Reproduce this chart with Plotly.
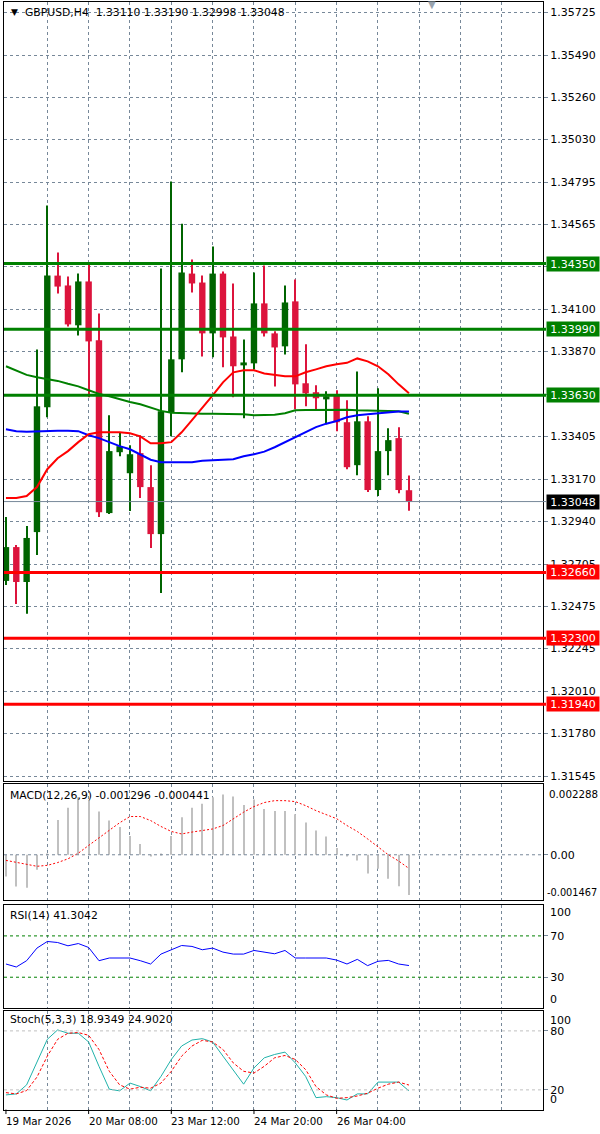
import plotly.graph_objects as go

W, H = 600, 1134
FONT = "DejaVu Sans"
FS = 11          # axis ticks and level boxes
FS_T = 10.8      # panel titles
FS_D = 10.3      # date labels

# ---- GBPUSD H4 candles, oldest -> newest ----
opens = [1.32614, 1.32799, 1.32608, 1.32881, 1.33564, 1.34284, 1.34230, 1.34012, 1.34252, 1.33930,
         1.32985, 1.33318, 1.33203, 1.33313, 1.33127, 1.32870, 1.33536, 1.33826, 1.34295, 1.34246,
         1.33968, 1.34295, 1.33951, 1.33793, 1.33804, 1.34132, 1.33968, 1.33897, 1.34143, 1.33695,
         1.33646, 1.33607, 1.33629, 1.33482, 1.33247, 1.33487, 1.33111, 1.33324, 1.33395, 1.33110]
highs = [1.32963, 1.32810, 1.32914, 1.33880, 1.34667, 1.34410, 1.34279, 1.34295, 1.34355, 1.34077,
         1.33520, 1.33427, 1.33356, 1.33411, 1.33247, 1.34323, 1.34798, 1.34568, 1.34372, 1.34284,
         1.34443, 1.34306, 1.34241, 1.33935, 1.34301, 1.34339, 1.33979, 1.34230, 1.34263, 1.33908,
         1.33684, 1.33651, 1.33657, 1.33602, 1.33760, 1.33515, 1.33668, 1.33449, 1.33455, 1.33190]
lows = [1.32592, 1.32488, 1.32434, 1.32756, 1.33509, 1.34186, 1.34006, 1.33957, 1.33618, 1.32963,
        1.32980, 1.33296, 1.32996, 1.33067, 1.32794, 1.32548, 1.33405, 1.33755, 1.34192, 1.33842,
        1.33837, 1.33782, 1.33618, 1.33504, 1.33771, 1.33951, 1.33678, 1.33853, 1.33553, 1.33569,
        1.33553, 1.33471, 1.33433, 1.33225, 1.33192, 1.33100, 1.33078, 1.33192, 1.33094, 1.32998]
closes = [1.32799, 1.32608, 1.32849, 1.33569, 1.34284, 1.34224, 1.34017, 1.34252, 1.33924, 1.32990,
          1.33324, 1.33351, 1.33307, 1.33127, 1.32870, 1.33542, 1.33826, 1.34301, 1.34241, 1.33968,
          1.34295, 1.33946, 1.33788, 1.33809, 1.34132, 1.33968, 1.33891, 1.34137, 1.33689, 1.33640,
          1.33613, 1.33624, 1.33482, 1.33236, 1.33487, 1.33111, 1.33324, 1.33384, 1.33111, 1.33048]

# moving averages
ma_red = [1.33067, 1.33067, 1.33078, 1.33127, 1.33225, 1.33285, 1.33324, 1.33373, 1.33416, 1.33427,
          1.33427, 1.33427, 1.33422, 1.33405, 1.33367, 1.33367, 1.33373, 1.33427, 1.33493, 1.33558,
          1.33629, 1.33700, 1.33755, 1.33766, 1.33766, 1.33749, 1.33739, 1.33733, 1.33733, 1.33755,
          1.33771, 1.33788, 1.33799, 1.33807, 1.33831, 1.33815, 1.33788, 1.33744, 1.33689, 1.33640]
ma_blue = [1.33444, 1.33433, 1.33430, 1.33433, 1.33434, 1.33435, 1.33435, 1.33433, 1.33411, 1.33395,
           1.33373, 1.33351, 1.33334, 1.33307, 1.33277, 1.33263, 1.33263, 1.33263, 1.33263, 1.33271,
           1.33276, 1.33277, 1.33280, 1.33296, 1.33307, 1.33321, 1.33345, 1.33373, 1.33400, 1.33427,
           1.33455, 1.33474, 1.33489, 1.33509, 1.33520, 1.33526, 1.33531, 1.33538, 1.33540, 1.33540]
ma_green = [1.33788, 1.33766, 1.33741, 1.33728, 1.33717, 1.33708, 1.33692, 1.33678, 1.33657, 1.33637,
            1.33624, 1.33607, 1.33593, 1.33580, 1.33561, 1.33544, 1.33534, 1.33531, 1.33528, 1.33528,
            1.33528, 1.33528, 1.33528, 1.33526, 1.33520, 1.33520, 1.33523, 1.33531, 1.33547, 1.33549,
            1.33550, 1.33550, 1.33550, 1.33550, 1.33547, 1.33545, 1.33545, 1.33545, 1.33542, 1.33528]

resistance = [1.34350, 1.33990, 1.33630]
support = [1.32660, 1.32300, 1.31940]

price_ticks = [1.35725, 1.35490, 1.35260, 1.35030, 1.34795, 1.34565, 1.34335, 1.34100, 1.33870,
               1.33635, 1.33405, 1.33170, 1.32940, 1.32705, 1.32475, 1.32245, 1.32010, 1.31780, 1.31545]
hidden_ticks = [1.34335, 1.33635]   # sit under the level boxes

# MACD(12,26,9)
macd_main = [-0.00070, -0.00102, -0.00106, -0.00048, 0.00003, 0.00112, 0.00151, 0.00185, 0.00175, 0.00139,
             0.00110, 0.00089, 0.00060, 0.00035, -0.00003, 0.00002, 0.00060, 0.00121, 0.00151, 0.00164,
             0.00185, 0.00194, 0.00187, 0.00160, 0.00178, 0.00147, 0.00141, 0.00141, 0.00130, 0.00104,
             0.00078, 0.00059, 0.00022, -0.00003, -0.00018, -0.00060, -0.00045, -0.00077, -0.00101, -0.001296]
macd_signal = [-0.00018, -0.00024, -0.00031, -0.00037, -0.00034, -0.00025, -0.00013, 0.00005, 0.00030, 0.00054,
               0.00080, 0.00103, 0.00123, 0.00123, 0.00110, 0.00091, 0.00075, 0.00067, 0.00073, 0.00078,
               0.00083, 0.00094, 0.00116, 0.00137, 0.00155, 0.00168, 0.00174, 0.00174, 0.00171, 0.00158,
               0.00142, 0.00129, 0.00116, 0.00094, 0.00075, 0.00051, 0.00027, 0.00000, -0.00020, -0.000441]
macd_max, macd_min = 0.002288, -0.001467

# RSI(14)
rsi = [42.8, 39.9, 46.0, 58.2, 64.6, 63.6, 60.4, 62.6, 58.8, 46.0,
       48.6, 48.6, 48.6, 46.0, 42.8, 52.4, 56.6, 60.7, 59.8, 56.6,
       58.2, 54.3, 52.4, 52.4, 55.9, 54.3, 52.7, 55.9, 48.6, 48.6,
       48.6, 48.6, 46.6, 42.8, 47.3, 41.2, 45.4, 46.3, 42.8, 41.3042]

# Stochastic(5,3,3)
stoch_k = [14.9, 15.9, 25.1, 47.4, 71.4, 81.0, 77.6, 77.6, 68.7, 44.0,
           20.7, 19.0, 26.9, 23.4, 19.0, 33.7, 50.9, 64.6, 70.7, 72.1,
           68.7, 54.3, 40.6, 25.8, 42.3, 52.6, 56.0, 58.4, 47.4, 33.7,
           12.1, 13.1, 12.1, 9.7, 15.9, 15.9, 27.9, 27.9, 27.9, 18.9349]
stoch_d = [17.2, 15.9, 19.3, 33.0, 54.3, 71.4, 77.6, 78.3, 75.5, 61.1,
           38.9, 25.1, 20.7, 22.7, 21.7, 26.9, 38.9, 54.3, 64.6, 70.4,
           68.7, 61.1, 47.4, 38.9, 37.1, 44.0, 52.6, 55.0, 50.9, 40.6,
           23.4, 14.9, 11.4, 12.1, 13.8, 16.6, 21.7, 25.8, 27.9, 24.9020]

date_labels = ["19 Mar 2026", "20 Mar 08:00", "23 Mar 12:00", "24 Mar 20:00", "26 Mar 04:00"]
date_idx = [0, 8, 16, 24, 32]

n = len(closes)
idx = list(range(n))


def py(row):
    return 1 - row / H


GRID = "#778899"
DASH = "3px,3px"
X_DOM = [4 / W, 543 / W]
X_RANGE = [-0.19, 51.97]
BULL, BEAR = "#006400", "#DC143C"

bull = [c >= o for o, c in zip(opens, closes)]
colors = [BULL if b else BEAR for b in bull]
body_base = [min(o, c) for o, c in zip(opens, closes)]
body_len = [max(abs(c - o), 0.00002) for o, c in zip(opens, closes)]
wick_len = [h - l for h, l in zip(highs, lows)]

fig = go.Figure()

# candles
fig.add_bar(x=idx, y=wick_len, base=lows, width=0.1,
            marker=dict(color=colors, line_width=0), xaxis="x", yaxis="y")
fig.add_bar(x=idx, y=body_len, base=body_base, width=0.62,
            marker=dict(color=colors, line_width=0), xaxis="x", yaxis="y")
for ma, col in ((ma_green, "#008000"), (ma_blue, "#0000FF"), (ma_red, "#FF0000")):
    fig.add_scatter(x=idx, y=ma, mode="lines", line=dict(color=col, width=2),
                    xaxis="x", yaxis="y")

# MACD
fig.add_bar(x=idx, y=macd_main, width=0.1, marker=dict(color="#C0C0C0", line_width=0),
            xaxis="x2", yaxis="y2")
fig.add_scatter(x=idx, y=macd_signal, mode="lines",
                line=dict(color="#FF0000", width=1, dash="2px,2px"), xaxis="x2", yaxis="y2")

# RSI
fig.add_scatter(x=idx, y=rsi, mode="lines", line=dict(color="#0000FF", width=1),
                xaxis="x3", yaxis="y3")

# Stochastic
fig.add_scatter(x=idx, y=stoch_k, mode="lines", line=dict(color="#20B2AA", width=1),
                xaxis="x4", yaxis="y4")
fig.add_scatter(x=idx, y=stoch_d, mode="lines",
                line=dict(color="#FF0000", width=1, dash="3px,2px"), xaxis="x4", yaxis="y4")


def xax(anchor):
    return dict(domain=X_DOM, range=X_RANGE, anchor=anchor,
                tickvals=list(range(4, 52, 4)), showticklabels=False, ticks="",
                showgrid=True, gridcolor=GRID, griddash=DASH, gridwidth=1,
                zeroline=False, showline=True, mirror=True, linecolor="black", linewidth=1)


def yax(anchor, top, bottom, rng, vals, texts, grid=False):
    return dict(domain=[py(bottom), py(top)], range=rng, anchor=anchor, side="right",
                tickvals=vals, ticktext=texts, ticks="outside", ticklen=4, tickcolor=GRID,
                showgrid=grid, gridcolor=GRID, griddash=DASH, gridwidth=1,
                zeroline=False, showline=True, mirror=True, linecolor="black", linewidth=1,
                tickfont=dict(family=FONT, size=FS, color="black"))


price_text = ["" if v in hidden_ticks else f"{v:.5f}" for v in price_ticks]

fig.update_layout(
    width=W, height=H, margin=dict(l=0, r=0, t=0, b=0),
    paper_bgcolor="white", plot_bgcolor="white",
    showlegend=False, barmode="overlay", hovermode=False,
    font=dict(family=FONT, size=FS, color="black"),
    xaxis=xax("y"), xaxis2=xax("y2"), xaxis3=xax("y3"), xaxis4=xax("y4"),
    yaxis=yax("x", 2, 782.5, [1.315189, 1.357805], price_ticks, price_text, grid=True),
    yaxis2=yax("x2", 785, 902, [macd_min, macd_max], [0], ["0.00"]),
    yaxis3=yax("x3", 906.5, 1010, [0, 100], [70, 30], ["70", "30"]),
    yaxis4=yax("x4", 1013, 1111.5, [0, 100], [80, 20], ["80", "20"]),
)

shapes = []
# support / resistance levels
for v in resistance:
    shapes.append(dict(type="line", xref="paper", yref="y", x0=X_DOM[0], x1=546 / W,
                       y0=v, y1=v, line=dict(color="#008000", width=3)))
for v in support:
    shapes.append(dict(type="line", xref="paper", yref="y", x0=X_DOM[0], x1=546 / W,
                       y0=v, y1=v, line=dict(color="#FF0000", width=3)))
# bid line
shapes.append(dict(type="line", xref="paper", yref="y", x0=X_DOM[0], x1=546 / W,
                   y0=closes[-1], y1=closes[-1], line=dict(color=GRID, width=1)))
# indicator levels
shapes.append(dict(type="line", xref="paper", yref="y2", x0=X_DOM[0], x1=X_DOM[1],
                   y0=0, y1=0, line=dict(color=GRID, width=1, dash=DASH)))
for v in (70, 30):
    shapes.append(dict(type="line", xref="paper", yref="y3", x0=X_DOM[0], x1=X_DOM[1],
                       y0=v, y1=v, line=dict(color="#008000", width=1, dash=DASH)))
for v in (80, 20):
    shapes.append(dict(type="line", xref="paper", yref="y4", x0=X_DOM[0], x1=X_DOM[1],
                       y0=v, y1=v, line=dict(color="#C0C0C0", width=1, dash=DASH)))
# time ticks
for i in date_idx:
    shapes.append(dict(type="line", xref="x4", yref="paper", x0=i, x1=i,
                       y0=py(1111.5), y1=py(1116), line=dict(color="black", width=1)))
fig.update_layout(shapes=shapes)

ann = []


def box(v, bg, fg="white"):
    ann.append(dict(x=546 / W, xref="paper", xanchor="left", y=v, yref="y", yanchor="middle",
                    text=f"{v:.5f}", showarrow=False, bgcolor=bg, borderpad=1,
                    width=50, height=12, font=dict(family=FONT, size=FS, color=fg)))


for v in resistance:
    box(v, "#008000")
for v in support:
    box(v, "#FF0000")
box(closes[-1], "black")


def text(x, row, s, size=FS_T, color="black", anchor="left"):
    ann.append(dict(x=x / W, xref="paper", xanchor=anchor, y=py(row), yref="paper",
                    yanchor="middle", text=s, showarrow=False,
                    font=dict(family=FONT, size=size, color=color)))


text(9, 12, "▼", size=9)
text(23, 13, f"GBPUSD,H4  {opens[-1]:.5f} {highs[-1]:.5f} {lows[-1]:.5f} {closes[-1]:.5f}")
text(426, 5, "▼", size=10, color="#9AA4AE")
text(8, 797, f"MACD(12,26,9) {macd_main[-1]:.6f} {macd_signal[-1]:.6f}")
text(8, 917, f"RSI(14) {rsi[-1]:.4f}")
text(8, 1021, f"Stoch(5,3,3) {stoch_k[-1]:.4f} {stoch_d[-1]:.4f}")
text(547, 795, f"{macd_max:.6f}", size=10.3)
text(545, 894, f"{macd_min:.6f}", size=9.8)
text(548, 914, "100", size=FS)
text(548, 1001, "0", size=FS)
text(548, 1022, "100", size=FS)
text(548, 1101, "0", size=FS)
for i, lab in zip(date_idx, date_labels):
    ann.append(dict(x=i, xref="x4", xanchor="left", xshift=-2, y=py(1123), yref="paper",
                    yanchor="middle", text=lab, showarrow=False,
                    font=dict(family=FONT, size=FS_D, color="black")))
fig.update_layout(annotations=ann)

fig.write_html("out.html", config={"displayModeBar": False},
               post_script="document.body.style.margin='0';document.body.style.padding='0';")
